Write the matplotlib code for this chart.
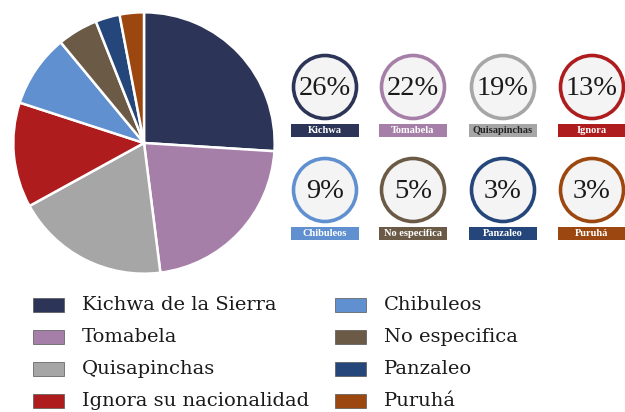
import matplotlib.pyplot as plt
from matplotlib.patches import Circle, Rectangle

# data
groups = ['Kichwa de la Sierra', 'Tomabela', 'Quisapinchas', 'Ignora su nacionalidad',
          'Chibuleos', 'No especifica', 'Panzaleo', 'Puruhá']
short_labels = ['Kichwa', 'Tomabela', 'Quisapinchas', 'Ignora',
                'Chibuleos', 'No especifica', 'Panzaleo', 'Puruhá']
percent = [26, 22, 19, 13, 9, 5, 3, 3]
colors = ['#2c3457', '#a67fa8', '#a6a6a6', '#ae1c1e',
          '#6090cf', '#6b5a46', '#24467a', '#9c470f']
label_text_colors = ['white', 'white', '#222222', 'white',
                     'white', 'white', 'white', 'white']

plt.rcParams['font.family'] = ['Liberation Serif', 'DejaVu Serif']

W, H = 625, 412
fig = plt.figure(figsize=(W / 100, H / 100), dpi=100)

# pie
cx, cy, r = 144, 143, 132
ax_pie = fig.add_axes([(cx - r) / W, (H - cy - r) / H, 2 * r / W, 2 * r / H])
ax_pie.pie(percent, colors=colors, startangle=90, counterclock=False,
           wedgeprops=dict(edgecolor='white', linewidth=1.8))
ax_pie.set_xlim(-1.01, 1.01)
ax_pie.set_ylim(-1.01, 1.01)
ax_pie.set_aspect('equal')

# overlay in pixel coords
ax = fig.add_axes([0, 0, 1, 1])
ax.set_xlim(0, W)
ax.set_ylim(H, 0)
ax.axis('off')

col_x = [325, 413, 503, 592]
row_y = [87, 190]
for i, (p, lab, c, tc) in enumerate(zip(percent, short_labels, colors, label_text_colors)):
    x = col_x[i % 4]
    y = row_y[i // 4]
    ax.add_patch(Circle((x, y), 31.5, facecolor='#f4f4f4', edgecolor=c, linewidth=2.6))
    ax.text(x, y + 1, f'{p}%', ha='center', va='center', fontsize=20.5, color='#1a1a1a')
    ly = y + 37
    ax.add_patch(Rectangle((x - 34, ly), 68, 13, facecolor=c, edgecolor='none'))
    ax.text(x, ly + 6.8, lab, ha='center', va='center', fontsize=7.5, fontweight='bold',
            color=tc)

# legend
leg_x = [33, 335]
leg_y = [305, 337, 369, 401]
for i, (g, c) in enumerate(zip(groups, colors)):
    x = leg_x[i // 4]
    y = leg_y[i % 4]
    ax.add_patch(Rectangle((x, y - 7), 31, 14, facecolor=c, edgecolor='#555555', linewidth=0.5))
    ax.text(x + 49, y, g, ha='left', va='center', fontsize=14, color='#1a1a1a',
            family='DejaVu Serif')

fig.savefig('out.png', dpi=100)
